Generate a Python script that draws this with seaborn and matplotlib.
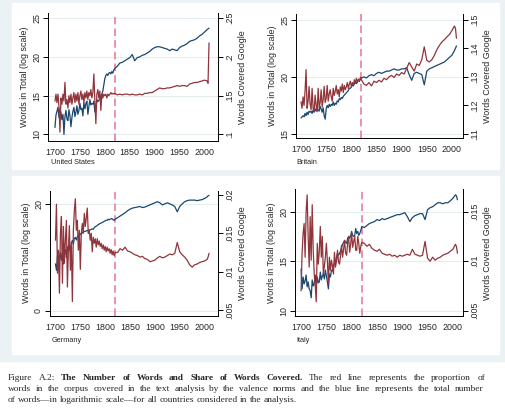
import matplotlib
matplotlib.use("Agg")
import matplotlib.pyplot as plt
import seaborn as sns
from matplotlib.patches import Rectangle

# years: every 2 years up to 1820, then every 5 years
years = list(range(1700, 1821, 2)) + list(range(1825, 2006, 5)) + [2007, 2009]

# words in total (log scale), left axis
us_words = [10.9, 12.5, 13.0, 13.5, 12.2, 13.3, 12.8, 11.9, 12.6, 10.0,
            12.3, 13.1, 12.0, 11.8, 13.2, 12.4, 11.0, 12.2, 13.0, 13.5,
            12.3, 12.9, 13.7, 12.6, 13.1, 14.0, 13.2, 13.4, 12.4, 14.1,
            13.3, 14.0, 14.3, 12.6, 13.6, 14.5, 13.8, 14.0, 13.9, 14.3,
            12.9, 13.8, 14.5, 14.2, 14.4, 14.6, 15.0, 15.2, 15.6, 16.4,
            17.2, 17.6, 17.8, 17.6, 17.9, 18.0, 17.8, 18.1, 17.9, 18.3,
            18.5] + \
           [18.8, 19.2, 19.3, 19.5, 19.7, 19.9, 20.3, 19.5, 19.9, 20.0,
            20.2, 20.3, 20.5, 20.7, 21.0, 21.2, 21.3, 21.3, 21.2, 21.1,
            21.0, 20.8, 21.0, 20.9, 20.8, 21.2, 21.4, 21.5, 21.7, 22.0,
            22.1, 22.2, 22.4, 22.7, 22.9, 23.2, 23.5, 23.6, 23.7]
gb_words = [16.4, 16.5, 16.6, 16.5, 16.8, 16.6, 16.9, 16.7, 17.0, 16.9,
            17.0, 16.8, 17.1, 16.9, 17.2, 17.0, 17.3, 17.1, 17.0, 17.4,
            17.2, 16.9, 17.3, 16.6, 16.3, 17.2, 17.5, 17.3, 17.6, 17.4,
            17.6, 17.5, 17.8, 17.5, 17.7, 17.6, 17.9, 17.8, 18.1, 18.0,
            18.2, 18.1, 18.3, 18.4, 18.5, 18.6, 18.7, 18.8, 19.0, 19.0,
            19.1, 19.3, 19.2, 19.4, 19.5, 19.4, 19.6, 19.7, 19.6, 19.8,
            19.9] + \
           [20.0, 19.9, 20.1, 20.2, 20.1, 20.3, 20.4, 20.3, 20.4, 20.5,
            20.5, 20.6, 20.7, 20.6, 20.6, 20.7, 20.7, 20.8, 20.2, 19.7,
            20.3, 20.4, 20.3, 20.2, 19.3, 20.5, 20.7, 20.8, 20.9, 21.0,
            21.1, 21.2, 21.3, 21.5, 21.7, 21.9, 22.3, 22.5, 22.7]
de_words = [8.8, 7.6, 10.4, 9.0, 9.7, 11.0, 9.5, 10.8, 8.8, 10.9,
            11.5, 10.0, 12.0, 11.4, 12.4, 11.0, 12.8, 13.2, 12.5, 13.6,
            13.8, 13.3, 13.9, 14.2, 14.0, 14.5, 14.4, 14.7, 14.8, 14.9,
            14.9, 15.0, 15.1, 15.0, 15.2, 15.2, 15.3, 15.4, 15.3, 15.6,
            15.8, 15.9, 16.0, 16.2, 16.3, 16.4, 16.5, 16.6, 16.7, 16.8,
            16.9, 17.0, 17.0, 17.2, 17.1, 17.2, 17.3, 17.3, 17.1, 17.0,
            17.2] + \
           [17.5, 17.8, 18.1, 18.4, 18.8, 19.1, 19.3, 19.4, 19.5, 19.6,
            19.4, 19.5, 19.7, 19.9, 20.1, 20.3, 20.5, 20.3, 19.9, 20.1,
            20.3, 20.1, 19.9, 19.6, 18.6, 19.6, 20.1, 20.5, 20.7, 20.8,
            20.8, 20.8, 20.7, 20.8, 20.9, 21.1, 21.4, 21.6, 21.7]
it_words = [14.2, 12.2, 13.4, 12.7, 13.0, 13.6, 12.4, 12.9, 12.2, 12.0,
            11.3, 13.1, 12.5, 12.7, 13.6, 12.5, 13.4, 12.8, 12.9, 13.9,
            13.1, 13.5, 13.7, 13.2, 14.1, 13.5, 12.9, 12.2, 13.7, 13.4,
            14.1, 14.0, 14.4, 14.8, 15.0, 15.4, 15.8, 15.6, 15.8, 16.0,
            16.4, 16.7, 16.9, 17.1, 16.9, 16.8, 17.3, 17.5, 17.3, 17.6,
            18.0, 17.6, 17.5, 17.6, 18.3, 17.8, 18.0, 17.6, 17.8, 18.1,
            18.5] + \
           [18.4, 18.6, 18.8, 18.9, 19.0, 19.2, 19.1, 19.3, 19.2, 19.3,
            19.4, 19.5, 19.6, 19.7, 19.7, 19.8, 19.9, 19.5, 19.0, 19.4,
            19.6, 19.7, 19.8, 19.8, 19.2, 20.2, 20.4, 20.5, 20.7, 20.9,
            20.9, 20.8, 20.9, 20.9, 21.1, 21.35, 21.7, 21.6, 21.2]

# share of words covered (Google), right axis
us_share = [.143, .152, .141, .152, .136, .103, .147, .139, .152, .143,
            .167, .139, .145, .134, .150, .141, .152, .139, .147, .154,
            .141, .152, .143, .154, .139, .150, .156, .145, .152, .141,
            .154, .147, .156, .145, .154, .150, .158, .147, .154, .178,
            .143, .114, .152, .158, .147, .156, .131, .152, .147, .152,
            .150, .152, .147, .152, .150, .152, .154, .152, .153, .152,
            .153] + \
           [.151, .152, .151, .152, .152, .151, .152, .151, .151, .152,
            .151, .153, .153, .154, .154, .156, .158, .160, .159, .159,
            .160, .160, .161, .162, .163, .162, .163, .163, .162, .165,
            .166, .167, .167, .168, .169, .170, .169, .166, .218]
gb_share = [.1213, .1190, .1230, .1200, .1250, .1325, .1190, .1215, .1266, .1205,
            .1185, .1260, .1190, .1180, .1236, .1200, .1178, .1260, .1190, .1210,
            .1255, .1195, .1220, .1267, .1210, .1225, .1270, .1215, .1240, .1255,
            .1230, .1215, .1260, .1235, .1250, .1270, .1240, .1255, .1230, .1265,
            .1250, .1275, .1245, .1270, .1255, .1265, .1280, .1260, .1275, .1285,
            .1265, .1280, .1270, .1290, .1278, .1295, .1280, .1292, .1285, .1298,
            .1290] + \
           [.1275, .1270, .1280, .1268, .1285, .1280, .1288, .1282, .1295, .1290,
            .1300, .1305, .1298, .1310, .1305, .1315, .1310, .1330, .1350, .1335,
            .1320, .1345, .1340, .1360, .1405, .1358, .1352, .1360, .1375, .1395,
            .1410, .1422, .1430, .1440, .1448, .1462, .1478, .1470, .1435]
de_share = [.0141, .0188, .0098, .0128, .0072, .0150, .0172, .0085, .0159, .0111,
            .0141, .0167, .0080, .0128, .0160, .0102, .0135, .0061, .0154, .0180,
            .0195, .0154, .0167, .0128, .0154, .0103, .0150, .0163, .0150, .0176,
            .0159, .0170, .0183, .0150, .0154, .0141, .0150, .0126, .0145, .0137,
            .0143, .0132, .0143, .0135, .0140, .0133, .0137, .0130, .0135, .0128,
            .0133, .0126, .0132, .0127, .0130, .0124, .0129, .0122, .0127, .0121,
            .0125] + \
           [.0125, .0130, .0128, .0132, .0127, .0126, .0124, .0122, .0121, .0119,
            .0120, .0117, .0116, .0113, .0114, .0115, .0118, .0120, .0118, .0119,
            .0121, .0123, .0122, .0124, .0138, .0126, .0122, .0119, .0115, .0109,
            .0106, .0109, .0110, .0112, .0113, .0114, .0116, .0119, .0124]
it_share = [.0070, .0108, .0128, .0138, .0104, .0150, .0167, .0125, .0094, .0145,
            .0101, .0157, .0111, .0087, .0075, .0059, .0118, .0097, .0110, .0135,
            .0104, .0125, .0087, .0095, .0104, .0118, .0100, .0077, .0104, .0091,
            .0101, .0095, .0087, .0109, .0094, .0100, .0111, .0099, .0097, .0106,
            .0116, .0104, .0112, .0121, .0108, .0106, .0118, .0125, .0109, .0117,
            .0128, .0114, .0120, .0125, .0111, .0111, .0125, .0118, .0108, .0115,
            .0119] + \
           [.0118, .0115, .0117, .0113, .0111, .0110, .0112, .0108, .0107, .0106,
            .0107, .0105, .0106, .0104, .0106, .0105, .0106, .0107, .0106, .0112,
            .0107, .0106, .0105, .0106, .0120, .0103, .0100, .0104, .0101, .0103,
            .0104, .0106, .0107, .0108, .0110, .0112, .0117, .0115, .0108]

BLUE = "#1a476f"
RED = "#90353b"
PINK = "#e8809a"
BG = "#eaf2f3"
W, H = 505, 420

sns.set_style("white")
plt.rcParams["font.family"] = ["Liberation Sans", "DejaVu Sans"]

fig = plt.figure(figsize=(W / 100, H / 100), dpi=100)


def box(x0, y0, x1, y1):
    return [x0 / W, 1 - y1 / H, (x1 - x0) / W, (y1 - y0) / H]


def frect(x0, y0, x1, y1, color, z):
    fig.patches.append(Rectangle((x0 / W, 1 - y1 / H), (x1 - x0) / W, (y1 - y0) / H,
                                 transform=fig.transFigure, color=color, zorder=z))


frect(0, 0, W, 361, BG, -3)
frect(12, 3, 499, 169, "white", -2)
frect(12, 176, 499, 354, "white", -2)

panels = [
    dict(name="United States", words=us_words, share=us_share,
         rect=(48, 13, 218, 140.7), xlim=(1686, 2027),
         ylim=(9.2, 25.65), ylim2=(0.092, 0.2565),
         yt=[10, 15, 20, 25], ytl=["10", "15", "20", "25"],
         yt2=[.1, .15, .2, .25], ytl2=[".1", ".15", ".2", ".25"], cap=(51, 163)),
    dict(name="Britain", words=gb_words, share=gb_share,
         rect=(296, 14, 463, 138), xlim=(1690, 2022),
         ylim=(14.65, 25.5), ylim2=(0.1086, 0.152),
         yt=[15, 20, 25], ytl=["15", "20", "25"],
         yt2=[.11, .12, .13, .14, .15], ytl2=[".11", ".12", ".13", ".14", ".15"], cap=(296.5, 163)),
    dict(name="Germany", words=de_words, share=de_share,
         rect=(50, 190.7, 218, 315.7), xlim=(1689, 2027),
         ylim=(-0.94, 22.57), ylim2=(0.00426, 0.02056),
         yt=[0, 20], ytl=["0", "20"],
         yt2=[.005, .01, .015, .02], ytl2=[".005", ".01", ".015", ".02"], cap=(51.5, 340)),
    dict(name="Italy", words=it_words, share=it_share,
         rect=(295, 189.3, 463, 316), xlim=(1688, 2020),
         ylim=(9.46, 22.26), ylim2=(0.00446, 0.01726),
         yt=[10, 15, 20], ytl=["10", "15", "20"],
         yt2=[.005, .01, .015], ytl2=[".005", ".01", ".015"], cap=(296.5, 340.5)),
]

FS = 6.4
for p in panels:
    ax = fig.add_axes(box(*p["rect"]))
    ax.set_facecolor("white")
    ax.grid(axis="y", color="#e4ecee", lw=0.7)
    ax.set_axisbelow(True)
    sns.lineplot(x=years, y=p["words"], ax=ax, color=BLUE, lw=0.9, estimator=None)
    ax.axvline(1820, color=PINK, lw=1.2, ls=(0, (4.5, 2.5)), zorder=1)
    ax2 = ax.twinx()
    sns.lineplot(x=years, y=p["share"], ax=ax2, color=RED, lw=0.9, estimator=None)

    ax.set_xlim(*p["xlim"])
    ax.set_ylim(*p["ylim"])
    ax2.set_ylim(*p["ylim2"])
    ax.set_xticks([1700, 1750, 1800, 1850, 1900, 1950, 2000])
    ax.set_xticklabels(["1700", "1750", "1800", "1850", "1900", "1950", "2000"], fontsize=FS)
    ax.set_yticks(p["yt"])
    ax.set_yticklabels(p["ytl"], fontsize=FS, rotation=90, va="center")
    ax2.set_yticks(p["yt2"])
    ax2.set_yticklabels(p["ytl2"], fontsize=FS, rotation=90, va="center")
    ax.set_xlabel("")
    ax.set_ylabel("Words in Total (log scale)", fontsize=FS, labelpad=2.5)
    ax2.set_ylabel("Words Covered Google", fontsize=FS, labelpad=3)

    for a in (ax, ax2):
        a.tick_params(length=3.5, width=0.7, pad=1.5, color="black")
        a.spines["top"].set_visible(False)
        for s in a.spines.values():
            s.set_color("black")
            s.set_linewidth(0.7)
    ax.spines["right"].set_visible(False)
    ax2.spines["left"].set_visible(False)
    ax2.spines["bottom"].set_visible(False)

    fig.text(p["cap"][0] / W, 1 - p["cap"][1] / H, p["name"], fontsize=5.3,
             ha="left", va="center")

# caption below the graphs, first two lines justified
renderer = fig.canvas.get_renderer()
CFS = 6.75


def caption_line(y, pieces, x0, x1=None):
    words = []
    for text, weight in pieces:
        for w in text.split():
            words.append((w, weight))
    objs = []
    for w, weight in words:
        t = fig.text(0, 1 - y / H, w, fontsize=CFS, fontweight=weight,
                     family="Liberation Serif", ha="left", va="baseline")
        objs.append((t, t.get_window_extent(renderer).width))
    total = sum(wd for _, wd in objs)
    if x1 is None:
        gap = CFS * 100 / 72 * 0.25
    else:
        gap = (x1 - x0 - total) / (len(objs) - 1)
    x = x0
    for t, wd in objs:
        t.set_x(x / W)
        x += wd + gap


caption_line(380, [("Figure A.2:", "normal"),
                   ("The Number of Words and Share of Words Covered.", "bold"),
                   ("The red line represents the proportion of", "normal")], 8, 485)
caption_line(391, [("words in the corpus covered in the text analysis by the valence norms "
                    "and the blue line represents the total number", "normal")], 8, 484)
caption_line(402, [("of words\u2014in logarithmic scale\u2014for all countries considered "
                    "in the analysis.", "normal")], 8)

fig.savefig("out.png", dpi=100)
